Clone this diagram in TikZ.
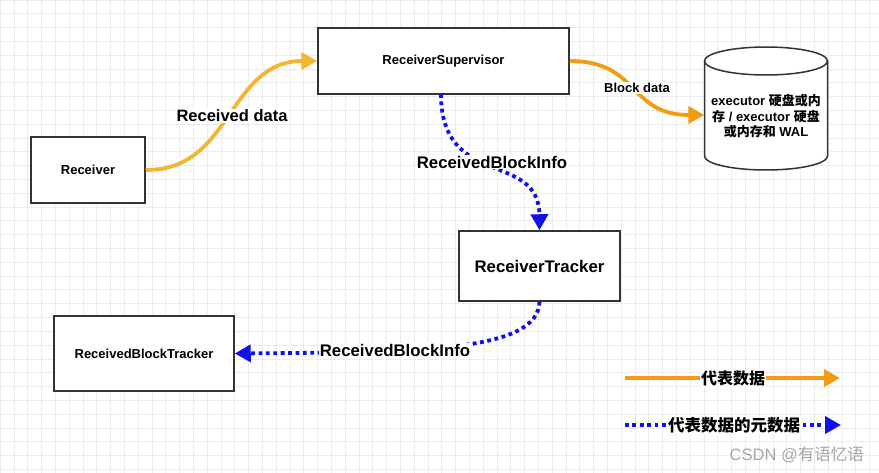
\documentclass[tikz,border=0pt]{standalone}
\usepackage{fontspec}
\setmainfont{Liberation Sans}
\newfontfamily\cjk{Noto Sans CJK SC}
\usetikzlibrary{arrows.meta}
\definecolor{gold}{HTML}{F2B632}
\definecolor{orng}{HTML}{F39C12}
\definecolor{blu}{HTML}{1010E8}
\definecolor{gridc}{HTML}{ECECEC}
\definecolor{boxc}{HTML}{333333}
\tikzset{
  box/.style={draw=boxc,line width=1.5pt,fill=white,inner sep=0pt,font=\bfseries},
  dataarrow/.style={line width=3.8pt,-{Triangle[length=16pt,width=17pt]}},
  metaarrow/.style={blu,line width=3.8pt,dash pattern=on 3.8pt off 3.6pt,-{Triangle[length=16pt,width=17pt]}},
  lbl/.style={fill=white,inner sep=1pt,font=\bfseries},
}
\begin{document}
\begin{tikzpicture}[x=1pt,y=-1pt]
\useasboundingbox (0,0) rectangle (879,473);
\fill[white] (0,0) rectangle (879,473);
\foreach \i in {0,...,64} {\draw[gridc,line width=0.6pt] (\i*13.8,0) -- (\i*13.8,473);}
\foreach \j in {0,...,35} {\draw[gridc,line width=0.6pt] (0,\j*13.8) -- (879,\j*13.8);}
% boxes
\node[box,minimum width=251pt,minimum height=66pt,font=\bfseries\fontsize{13}{15}\selectfont] (rs) at (443.5,61) {ReceiverSupervisor};
\node[box,minimum width=114pt,minimum height=66pt,font=\bfseries\fontsize{13}{15}\selectfont] (rc) at (88,170) {Receiver};
\node[box,minimum width=161pt,minimum height=70pt,font=\bfseries\fontsize{16.8}{18}\selectfont] (rt) at (539.5,266) {ReceiverTracker};
\node[box,minimum width=180pt,minimum height=75pt,font=\bfseries\fontsize{13}{15}\selectfont] (rbt) at (144,353.5) {ReceivedBlockTracker};
% cylinder
\node[minimum width=123pt,minimum height=124pt,inner sep=0pt] (db) at (766,108.5) {};
\filldraw[fill=white,draw=boxc,line width=1.5pt] (704.5,61) -- (704.5,156) arc(180:0:61.5 and 14) -- (827.5,61);
\filldraw[fill=white,draw=boxc,line width=1.5pt] (766,61) ellipse (61.5 and 14);
\node[align=center,font=\bfseries\fontsize{13}{15.5}\selectfont] (dbt) at (766,116.5) {executor {\cjk 硬盘或内}\\{\cjk 存} / executor {\cjk 硬盘}\\{\cjk 或内存和} WAL};
% connectors
\draw[dataarrow,gold] (rc.east) .. controls (232,171) and (228,61) .. (rs.west);
\node[lbl,font=\bfseries\fontsize{16.5}{18}\selectfont] (l1) at (232,116) {Received data};
\draw[dataarrow,orng] (rs.east) .. controls (640,61) and (628,115) .. ([yshift=-6.5pt]db.west);
\node[lbl,font=\bfseries\fontsize{13}{15}\selectfont] (l2) at (637,88) {Block data};
\draw[metaarrow] (441,94) .. controls (441,190) and (539,150) .. (rt.north);
\node[lbl,font=\bfseries\fontsize{16.8}{18}\selectfont] (l3) at (492,162) {ReceivedBlockInfo};
\draw[metaarrow] (rt.south) .. controls (538,352) and (420,352) .. (rbt.east);
\node[lbl,font=\bfseries\fontsize{16.8}{18}\selectfont] (l4) at (395,350) {ReceivedBlockInfo};
% legend
\coordinate (la) at (625,378);
\coordinate (lb) at (840,378);
\draw[dataarrow,orng] (la) -- (lb);
\node[lbl,font=\cjk\bfseries\fontsize{16}{18}\selectfont] (lt1) at (733,378) {代表数据};
\coordinate (lc) at (625,425);
\coordinate (ld) at (841,425);
\draw[metaarrow] (lc) -- (ld);
\node[lbl,font=\cjk\bfseries\fontsize{16.5}{18}\selectfont] (lt2) at (734,425) {代表数据的元数据};
% watermark
\node[anchor=east,text=gray!70,font=\fontsize{16.5}{18}\selectfont,inner sep=0pt] (wm) at (864,455) {CSDN @{\cjk 有语忆语}};
\end{tikzpicture}
\end{document}
